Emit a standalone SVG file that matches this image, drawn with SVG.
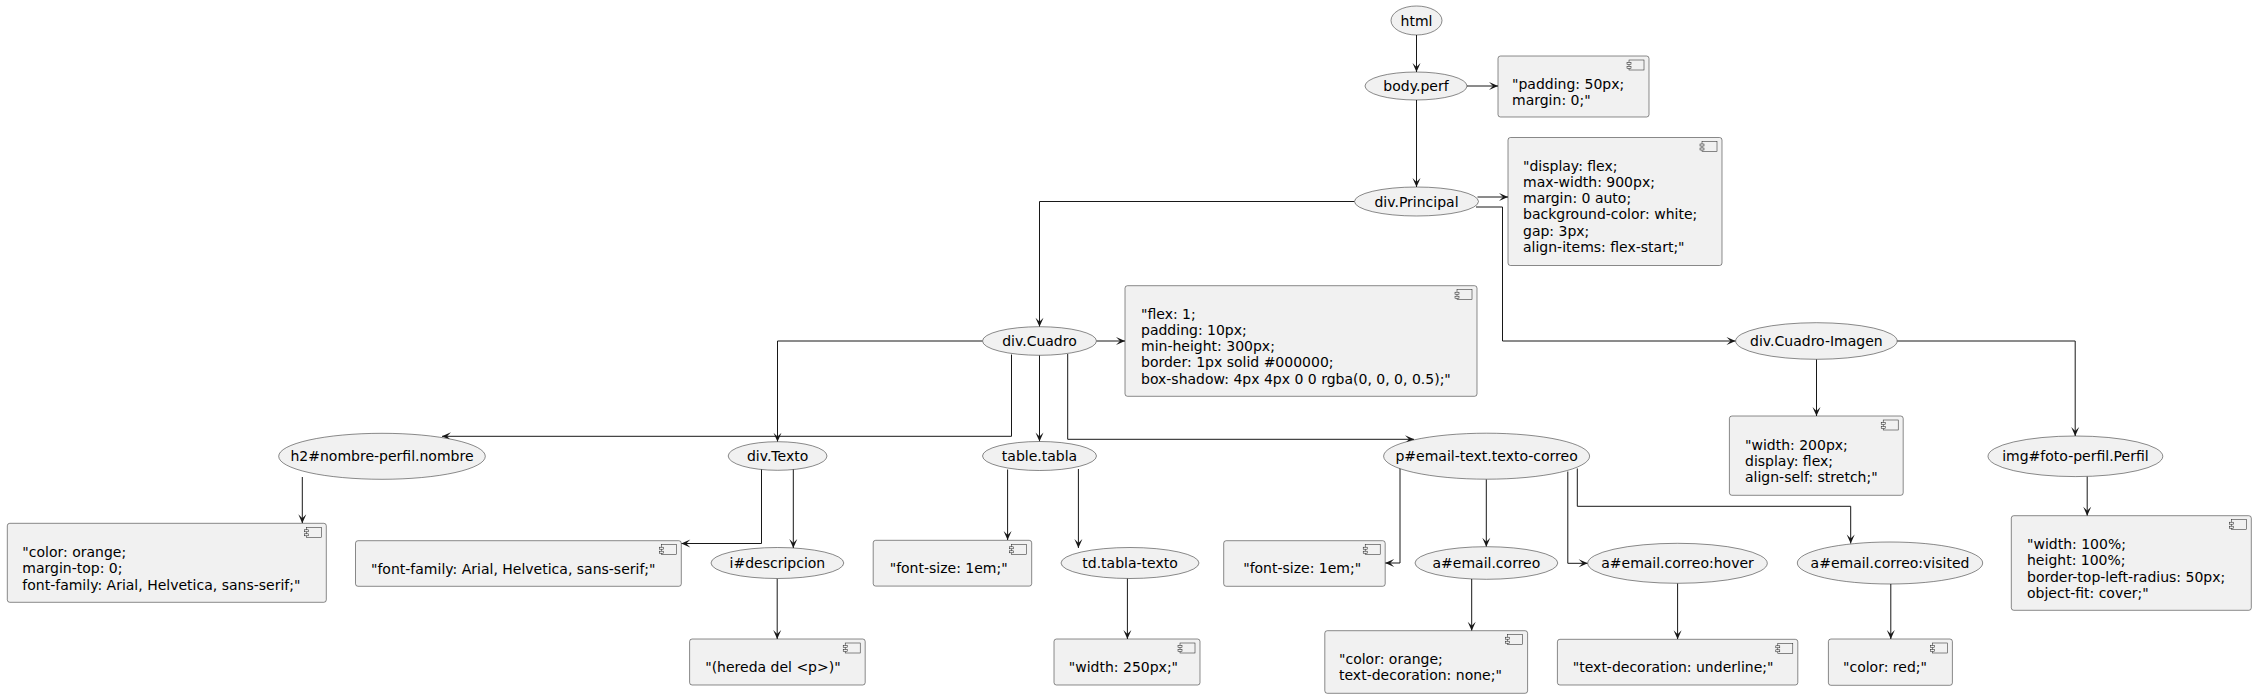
<svg xmlns="http://www.w3.org/2000/svg" width="2256" height="698" viewBox="0 0 2256 698">
<style>
.n ellipse{fill:#F1F1F1;stroke:#181818;stroke-width:0.5}
.b rect.f{fill:#F1F1F1;stroke:#181818;stroke-width:0.5}
.b rect.i{fill:#F1F1F1;stroke:#181818;stroke-width:0.5}
text{font-family:"DejaVu Sans","Liberation Sans",sans-serif;font-size:14px;fill:#000}
.n text{text-anchor:middle}
#connectors path{fill:none;stroke:#181818;stroke-width:1;marker-end:url(#ah)}
</style>
<defs>
<marker id="ah" markerUnits="userSpaceOnUse" markerWidth="10" markerHeight="9" refX="9" refY="4" orient="auto" overflow="visible">
<path d="M9,4 L0,0 L4,4 L0,8 Z" fill="#181818"/>
</marker>
<g id="icon">
<rect class="i" x="-20" y="4" width="15" height="10" fill="#F1F1F1" stroke="#181818" stroke-width="0.5"/>
<rect class="i" x="-22" y="6.5" width="4" height="2" fill="#F1F1F1" stroke="#181818" stroke-width="0.5"/>
<rect class="i" x="-22" y="10.5" width="4" height="2" fill="#F1F1F1" stroke="#181818" stroke-width="0.5"/>
</g>
</defs>
<rect width="2256" height="698" fill="#FFFFFF"/>

<g id="connectors">
<path d="M1416.5,35 L1416.5,72"/>
<path d="M1467,86 L1498,86"/>
<path d="M1416.5,100 L1416.5,187"/>
<path d="M1477.5,197 L1508,197"/>
<path d="M1476,207 L1502.5,207 L1502.5,341 L1735.5,341"/>
<path d="M1354.5,201.5 L1039.5,201.5 L1039.5,326.7"/>
<path d="M1096.5,341 L1125,341"/>
<path d="M982.5,341 L777.5,341 L777.5,441.7"/>
<path d="M1011.5,354.5 L1011.5,436.3 L442,436.3"/>
<path d="M1039.5,355.3 L1039.5,441.5"/>
<path d="M1067.7,354 L1067.7,439.3 L1414,439.3"/>
<path d="M1816.5,359.3 L1816.5,416"/>
<path d="M1897.2,341 L2075.2,341 L2075.2,436"/>
<path d="M302.3,477 L302.3,523.3"/>
<path d="M761.5,469 L761.5,543.5 L681.3,543.5"/>
<path d="M793.3,469 L793.3,548"/>
<path d="M777.2,578.5 L777.2,639"/>
<path d="M1007.6,469.5 L1007.6,540"/>
<path d="M1078.4,469 L1078.4,548"/>
<path d="M1127.4,578.4 L1127.4,639"/>
<path d="M1400,468 L1400,563 L1385.2,563"/>
<path d="M1486.3,479.3 L1486.3,546.7"/>
<path d="M1567.8,471.5 L1567.8,563.3 L1587.7,563.3"/>
<path d="M1577.3,468.5 L1577.3,506.3 L1850.7,506.3 L1850.7,543.5"/>
<path d="M1471.7,579 L1471.7,630.7"/>
<path d="M1677.6,583.3 L1677.6,639.3"/>
<path d="M1890.8,584 L1890.8,639"/>
<path d="M2087.2,476.5 L2087.2,515.7"/>
</g>

<g id="html" class="n"><ellipse cx="1416.5" cy="20.5" rx="25.5" ry="14.5"/><text x="1416.5" y="25.5">html</text></g>
<g id="body" class="n"><ellipse cx="1416" cy="86" rx="51" ry="14"/><text x="1416" y="91">body.perf</text></g>
<g id="divPrincipal" class="n"><ellipse cx="1416.5" cy="201.5" rx="62" ry="14.5"/><text x="1416.5" y="206.5">div.Principal</text></g>
<g id="divCuadro" class="n"><ellipse cx="1039.5" cy="341" rx="57" ry="14.3"/><text x="1039.5" y="346">div.Cuadro</text></g>
<g id="divCuadroImagen" class="n"><ellipse cx="1816.4" cy="341" rx="80.8" ry="18.3"/><text x="1816.4" y="346">div.Cuadro-Imagen</text></g>
<g id="h2" class="n"><ellipse cx="382" cy="456.3" rx="103.3" ry="23"/><text x="382" y="461.3">h2#nombre-perfil.nombre</text></g>
<g id="divTexto" class="n"><ellipse cx="777.6" cy="456" rx="49.4" ry="14.3"/><text x="777.6" y="461">div.Texto</text></g>
<g id="tableTabla" class="n"><ellipse cx="1039.5" cy="456" rx="57" ry="14.5"/><text x="1039.5" y="461">table.tabla</text></g>
<g id="pEmail" class="n"><ellipse cx="1486.6" cy="456.2" rx="103" ry="23"/><text x="1486.6" y="461.2">p#email-text.texto-correo</text></g>
<g id="img" class="n"><ellipse cx="2075.4" cy="456.3" rx="87.4" ry="20.3"/><text x="2075.4" y="461.3">img#foto-perfil.Perfil</text></g>
<g id="iDesc" class="n"><ellipse cx="777.4" cy="563" rx="66.4" ry="15.5"/><text x="777.4" y="568">i#descripcion</text></g>
<g id="td" class="n"><ellipse cx="1130" cy="563" rx="69" ry="15.5"/><text x="1130" y="568">td.tabla-texto</text></g>
<g id="aCorreo" class="n"><ellipse cx="1486.4" cy="563" rx="71.4" ry="16.3"/><text x="1486.4" y="568">a#email.correo</text></g>
<g id="aHover" class="n"><ellipse cx="1677.5" cy="563.3" rx="89.8" ry="20"/><text x="1677.5" y="568.3">a#email.correo:hover</text></g>
<g id="aVisited" class="n"><ellipse cx="1890" cy="563" rx="92.7" ry="21"/><text x="1890" y="568">a#email.correo:visited</text></g>

<g id="boxBody" class="b"><rect class="f" x="1498" y="56" width="151" height="61" rx="2.5"/><use href="#icon" x="1649" y="56"/><text x="1512"><tspan x="1512" y="88.5">"padding: 50px;</tspan><tspan x="1512" y="104.8">margin: 0;"</tspan></text></g>
<g id="boxPrincipal" class="b"><rect class="f" x="1508" y="137.5" width="214" height="128" rx="2.5"/><use href="#icon" x="1722" y="137.5"/><text><tspan x="1523" y="170.5">"display: flex;</tspan><tspan x="1523" y="186.8">max-width: 900px;</tspan><tspan x="1523" y="203.1">margin: 0 auto;</tspan><tspan x="1523" y="219.4">background-color: white;</tspan><tspan x="1523" y="235.7">gap: 3px;</tspan><tspan x="1523" y="252">align-items: flex-start;"</tspan></text></g>
<g id="boxCuadro" class="b"><rect class="f" x="1125" y="285.7" width="352" height="110.6" rx="2.5"/><use href="#icon" x="1477" y="285.7"/><text><tspan x="1141" y="318.5">"flex: 1;</tspan><tspan x="1141" y="334.8">padding: 10px;</tspan><tspan x="1141" y="351.1">min-height: 300px;</tspan><tspan x="1141" y="367.4">border: 1px solid #000000;</tspan><tspan x="1141" y="383.7">box-shadow: 4px 4px 0 0 rgba(0, 0, 0, 0.5);"</tspan></text></g>
<g id="boxCuadroImagen" class="b"><rect class="f" x="1729.4" y="416" width="173.8" height="79.3" rx="2.5"/><use href="#icon" x="1903.2" y="416"/><text><tspan x="1745" y="449.5">"width: 200px;</tspan><tspan x="1745" y="465.8">display: flex;</tspan><tspan x="1745" y="482.1">align-self: stretch;"</tspan></text></g>
<g id="boxH2" class="b"><rect class="f" x="7.3" y="523.3" width="319" height="79" rx="2.5"/><use href="#icon" x="326.3" y="523.3"/><text><tspan x="22.3" y="557">"color: orange;</tspan><tspan x="22.3" y="573.3">margin-top: 0;</tspan><tspan x="22.3" y="589.6">font-family: Arial, Helvetica, sans-serif;"</tspan></text></g>
<g id="boxTexto" class="b"><rect class="f" x="355.5" y="540.7" width="325.8" height="45.6" rx="2.5"/><use href="#icon" x="681.3" y="540.7"/><text x="371" y="573.5">"font-family: Arial, Helvetica, sans-serif;"</text></g>
<g id="boxDesc" class="b"><rect class="f" x="689.6" y="639" width="175.6" height="46" rx="2.5"/><use href="#icon" x="865.2" y="639"/><text x="705.2" y="671.5">"(hereda del &lt;p&gt;)"</text></g>
<g id="boxTabla" class="b"><rect class="f" x="873.2" y="540.3" width="158.5" height="45.8" rx="2.5"/><use href="#icon" x="1031.7" y="540.3"/><text x="889.7" y="572.8">"font-size: 1em;"</text></g>
<g id="boxTd" class="b"><rect class="f" x="1054" y="639" width="146" height="46" rx="2.5"/><use href="#icon" x="1200" y="639"/><text x="1068.8" y="671.5">"width: 250px;"</text></g>
<g id="boxEmail" class="b"><rect class="f" x="1223.7" y="540.7" width="161.5" height="45.6" rx="2.5"/><use href="#icon" x="1385.2" y="540.7"/><text x="1243.2" y="573">"font-size: 1em;"</text></g>
<g id="boxCorreo" class="b"><rect class="f" x="1324.8" y="630.7" width="202.8" height="62.6" rx="2.5"/><use href="#icon" x="1527.6" y="630.7"/><text><tspan x="1339" y="664">"color: orange;</tspan><tspan x="1339" y="680.3">text-decoration: none;"</tspan></text></g>
<g id="boxHover" class="b"><rect class="f" x="1557.4" y="639.3" width="240.4" height="45.7" rx="2.5"/><use href="#icon" x="1797.8" y="639.3"/><text x="1572.8" y="671.8">"text-decoration: underline;"</text></g>
<g id="boxVisited" class="b"><rect class="f" x="1828.4" y="639" width="124" height="46.3" rx="2.5"/><use href="#icon" x="1952.4" y="639"/><text x="1843" y="671.5">"color: red;"</text></g>
<g id="boxImg" class="b"><rect class="f" x="2011.3" y="515.7" width="240" height="94.6" rx="2.5"/><use href="#icon" x="2251.3" y="515.7"/><text><tspan x="2027" y="549">"width: 100%;</tspan><tspan x="2027" y="565.3">height: 100%;</tspan><tspan x="2027" y="581.6">border-top-left-radius: 50px;</tspan><tspan x="2027" y="597.9">object-fit: cover;"</tspan></text></g>
</svg>
